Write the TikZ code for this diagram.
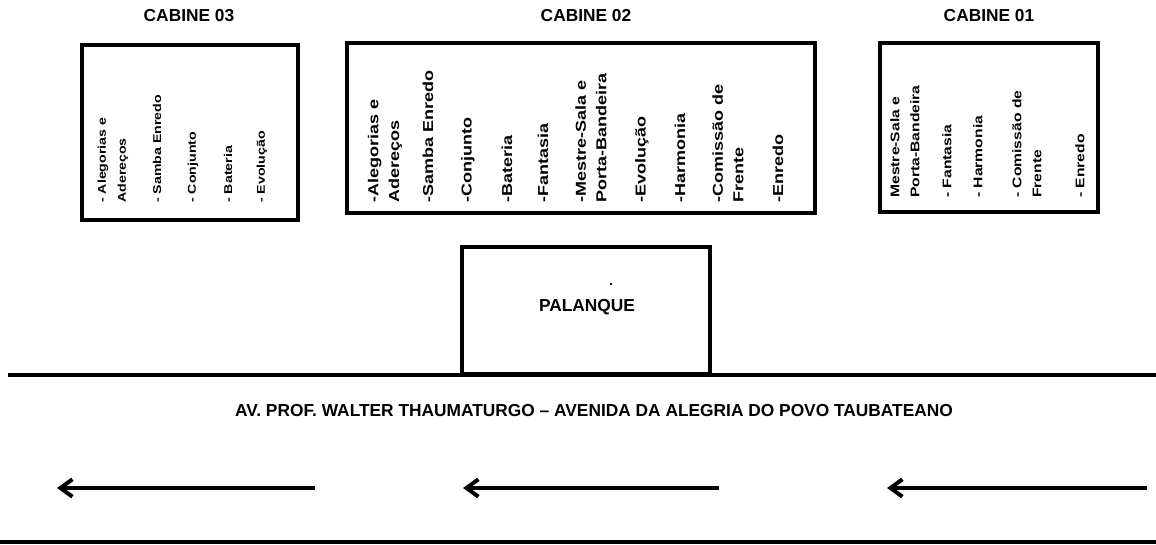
\documentclass[tikz,border=0pt]{standalone}
\usepackage{fontspec}
\setmainfont{Liberation Sans}
\newfontfamily\itemfont[FakeStretch=1.25]{Liberation Sans}
\usetikzlibrary{arrows.meta}

\begin{document}
\begin{tikzpicture}[x=0.75pt,y=-0.75pt,
    cabin/.style={draw,line width=2.6pt,inner sep=0},
    title/.style={font=\bfseries\fontsize{13}{15}\selectfont},
    itemA/.style={rotate=90,anchor=west,inner sep=0,align=left,font=\itemfont\bfseries\fontsize{8.5}{15}\selectfont},
    itemB/.style={rotate=90,anchor=west,inner sep=0,align=left,font=\itemfont\bfseries\fontsize{10.8}{15.5}\selectfont},
    itemC/.style={rotate=90,anchor=west,inner sep=0,align=left,font=\itemfont\bfseries\fontsize{9.4}{15}\selectfont},
    road/.style={line width=2.8pt},
    flow/.style={line width=3pt,-{Straight Barb[length=9pt,width=13pt]}}]
\useasboundingbox (0,0) rectangle (1156,545);

\node[title] (t03) at (189,16) {CABINE 03};
\node[title] (t02) at (586,16) {CABINE 02};
\node[title] (t01) at (989,16) {CABINE 01};

\node[cabin,minimum width=162pt,minimum height=131.25pt] (cab03) at (190,132.5) {};
\node[cabin,minimum width=351pt,minimum height=127.5pt] (cab02) at (581,128) {};
\node[cabin,minimum width=163.5pt,minimum height=126.75pt] (cab01) at (989,127.5) {};

\foreach \x/\t [count=\i] in {113/{- Alegorias e\\Adereços},157/{- Samba Enredo},193/{- Conjunto},228/{- Bateria},262/{- Evolução}}
    \node[itemA] (c03-\i) at (\x,203) {\t};

\foreach \x/\t [count=\i] in {385/{-Alegorias e\\Adereços},428/{-Samba Enredo},468/{-Conjunto},507/{-Bateria},543/{-Fantasia},
    591/{-Mestre-Sala e\\Porta-Bandeira},642/{-Evolução},680/{-Harmonia},728/{-Comissão de\\Frente},778/{-Enredo}}
    \node[itemB] (c02-\i) at (\x,203) {\t};

\foreach \x/\t [count=\i] in {905/{Mestre-Sala e\\Porta-Bandeira},947/{- Fantasia},978/{- Harmonia},1027/{- Comissão de\\Frente},1080/{- Enredo}}
    \node[itemC] (c01-\i) at (\x,198) {\t};

\node[cabin,minimum width=186pt,minimum height=95.25pt] (pal) at (586,310.5) {};
\node[title] (paltext) at (587,307) {PALANQUE};
\fill (611,284) circle (1pt);

\coordinate (top-w) at (8,375);
\coordinate (top-e) at (1156,375);
\coordinate (bot-w) at (0,542);
\coordinate (bot-e) at (1156,542);
\draw[road] (top-w) -- (top-e);
\draw[road] (bot-w) -- (bot-e);

\node[title] (avenida) at (594,411) {AV. PROF. WALTER THAUMATURGO – AVENIDA DA ALEGRIA DO POVO TAUBATEANO};

\coordinate (f1s) at (315,488);
\coordinate (f1e) at (57,488);
\coordinate (f2s) at (719,488);
\coordinate (f2e) at (463,488);
\coordinate (f3s) at (1147,488);
\coordinate (f3e) at (887,488);
\draw[flow] (f1s) -- (f1e);
\draw[flow] (f2s) -- (f2e);
\draw[flow] (f3s) -- (f3e);
\end{tikzpicture}
\end{document}
